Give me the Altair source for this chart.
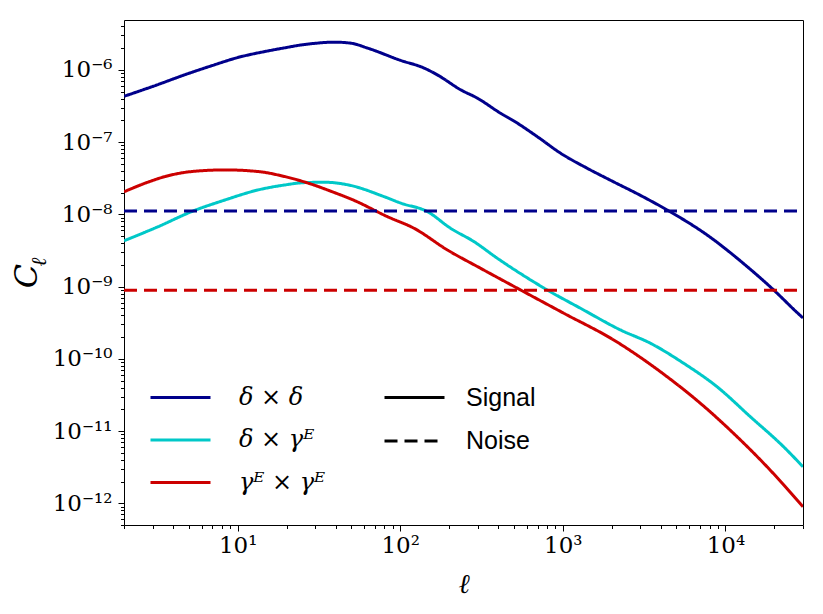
import altair as alt
import pandas as pd

# ---- data ----
ell_dd = [2, 3, 5, 7, 10, 15, 20, 24.5, 30, 39.2, 49.7, 63, 100.7, 140, 169, 236, 298, 414, 500,
          700, 970, 1410, 2000, 3000, 4375, 7700, 13600, 19800, 27500, 30000]
cl_dd = [4.3e-7, 5.89e-7, 8.93e-7, 1.15e-6, 1.48e-6, 1.81e-6, 2.04e-6, 2.21e-6, 2.33e-6, 2.42e-6,
         2.34e-6, 2.0e-6, 1.35e-6, 1.06e-6, 8.53e-7, 5.28e-7, 4.06e-7, 2.51e-7, 1.96e-7,
         1.18e-7, 7.0e-8, 4.35e-8, 2.90e-8, 1.83e-8, 1.15e-8, 5.19e-9, 1.89e-9, 8.97e-10,
         4.4e-10, 3.67e-10]

ell_de = [2, 3.25, 5.21, 8.36, 13.4, 19.5, 25.9, 34.4, 48, 79.4, 100.7, 146.9, 204, 284, 395,
          802, 1285, 2260, 3459, 5534, 8872, 14220, 22760, 30000]
cl_de = [4.3e-9, 6.76e-9, 1.09e-8, 1.58e-8, 2.18e-8, 2.55e-8, 2.75e-8, 2.78e-8, 2.55e-8, 1.76e-8,
         1.43e-8, 1.09e-8, 6.41e-9, 4.19e-9, 2.47e-9, 8.97e-10, 5.0e-10, 2.51e-10, 1.64e-10,
         8.67e-11, 4.11e-11, 1.58e-11, 6.07e-12, 3.2e-12]

ell_ee = [2, 2.7, 3.57, 5.21, 8.36, 13.4, 19.5, 27.2, 37.8, 52, 83.4, 121.6, 195, 312, 575, 1014,
          2056, 4375, 7015, 11220, 18030, 30000]
cl_ee = [2.05e-8, 2.70e-8, 3.33e-8, 3.91e-8, 4.12e-8, 3.91e-8, 3.33e-8, 2.70e-8, 2.07e-8, 1.56e-8,
         9.29e-9, 6.41e-9, 3.21e-9, 1.79e-9, 8.49e-10, 4.27e-10, 1.82e-10, 5.65e-11, 2.42e-11,
         9.29e-12, 3.2e-12, 8.95e-13]

noise_ell = [2, 30000]
noise_dd = 1.11e-8
noise_ee = 8.9e-10

LAB_DD = "δ × δ"
LAB_DE = "δ × γᴱ"
LAB_EE = "γᴱ × γᴱ"
series_order = [LAB_DD, LAB_DE, LAB_EE]
series_colors = ["#00008b", "#00c8c8", "#cc0000"]
kind_order = ["Signal", "Noise"]

x_major = [10, 100, 1000, 10000]
x_major_labels = ["10¹", "10²", "10³", "10⁴"]
y_major = [1e-12, 1e-11, 1e-10, 1e-9, 1e-8, 1e-7, 1e-6]
y_major_labels = ["10⁻¹²", "10⁻¹¹", "10⁻¹⁰", "10⁻⁹", "10⁻⁸", "10⁻⁷", "10⁻⁶"]

x_minor = [m * 10 ** k for k in range(0, 5) for m in range(2, 10) if 2 <= m * 10 ** k <= 30000]
y_minor = [m * 10.0 ** k for k in range(-13, -5) for m in range(2, 10) if 5e-13 <= m * 10.0 ** k <= 4.9e-6]

# ---- table ----
rows = []
for l, c in zip(ell_dd, cl_dd):
    rows.append(dict(ell=l, cl=c, series=LAB_DD, kind="Signal"))
for l, c in zip(ell_de, cl_de):
    rows.append(dict(ell=l, cl=c, series=LAB_DE, kind="Signal"))
for l, c in zip(ell_ee, cl_ee):
    rows.append(dict(ell=l, cl=c, series=LAB_EE, kind="Signal"))
for l in noise_ell:
    rows.append(dict(ell=l, cl=noise_dd, series=LAB_DD, kind="Noise"))
for l in noise_ell:
    rows.append(dict(ell=l, cl=noise_ee, series=LAB_EE, kind="Noise"))
df = pd.DataFrame(rows)


def label_expr(values, labels):
    parts = []
    for v, lab in sorted(zip(values, labels), key=lambda t: t[0]):
        parts.append(f"datum.value < {v * 1.5} ? '{lab}'")
    return " : ".join(parts) + " : ''"


xscale = alt.Scale(type="log", domain=[2, 30000], nice=False)
yscale = alt.Scale(type="log", domain=[5e-13, 4.9e-6], nice=False)

x_axis_major = alt.Axis(values=x_major, labelExpr=label_expr(x_major, x_major_labels),
                        orient="bottom", domain=False, grid=False, tickSize=6, tickWidth=1,
                        tickColor="black", labelFont="DejaVu Serif", labelFontSize=23,
                        labelColor="black", labelPadding=3, title="ℓ",
                        titleFont="DejaVu Serif", titleFontSize=27, titleFontStyle="italic",
                        titleFontWeight="normal", titleColor="black", titlePadding=14)
y_axis_major = alt.Axis(values=y_major, labelExpr=label_expr(y_major, y_major_labels),
                        orient="left", domain=False, grid=False, tickSize=6, tickWidth=1,
                        tickColor="black", labelFont="DejaVu Serif", labelFontSize=23,
                        labelColor="black", labelPadding=6, title=None)
x_axis_minor = alt.Axis(values=x_minor, labels=False, orient="bottom", domain=False, grid=False,
                        tickSize=3.5, tickWidth=1, tickColor="black", title=None)
y_axis_minor = alt.Axis(values=y_minor, labels=False, orient="left", domain=False, grid=False,
                        tickSize=3.5, tickWidth=1, tickColor="black", title=None)

color_legend = alt.Legend(orient="none", legendX=40, legendY=361, title=None,
                          symbolType="M-2,0H2", symbolSize=900, symbolStrokeWidth=3,
                          labelFont="DejaVu Serif", labelFontStyle="italic", labelFontSize=24,
                          labelColor="black", labelOffset=42, rowPadding=13.5, padding=0)
dash_legend = alt.Legend(orient="none", legendX=274, legendY=361, title=None,
                         symbolType="M-2,0H2", symbolSize=900, symbolStrokeWidth=3,
                         symbolStrokeColor="black",
                         labelFont="Liberation Sans", labelFontSize=25, labelColor="black",
                         labelOffset=35, rowPadding=13.5, padding=0)

base = alt.Chart(df)

curves = base.mark_line(strokeWidth=3, interpolate="monotone", clip=True).encode(
    x=alt.X("ell:Q", scale=xscale, axis=x_axis_major),
    y=alt.Y("cl:Q", scale=yscale, axis=y_axis_major),
    color=alt.Color("series:N", scale=alt.Scale(domain=series_order, range=series_colors),
                    sort=series_order, legend=color_legend),
    strokeDash=alt.StrokeDash("kind:N", scale=alt.Scale(domain=kind_order, range=[[1, 0], [13, 7]]),
                              sort=kind_order, legend=dash_legend),
)

minor = base.mark_point(opacity=0, size=1).encode(
    x=alt.X("ell:Q", scale=xscale, axis=x_axis_minor),
    y=alt.Y("cl:Q", scale=yscale, axis=y_axis_minor),
)

title_c = alt.Chart(pd.DataFrame({"t": ["C"]})).mark_text(
    font="DejaVu Serif", fontStyle="italic", fontSize=32, angle=270, align="center",
    baseline="middle", color="black"
).encode(x=alt.value(-97), y=alt.value(256), text="t:N")

title_l = alt.Chart(pd.DataFrame({"t": ["ℓ"]})).mark_text(
    font="DejaVu Serif", fontStyle="italic", fontSize=21, angle=270, align="center",
    baseline="middle", color="black"
).encode(x=alt.value(-84), y=alt.value(242), text="t:N")

chart = alt.layer(curves, minor, title_c, title_l).resolve_axis(
    x="independent", y="independent"
).properties(
    width=679, height=505,
    autosize=alt.AutoSizeParams(type="none"),
    padding={"left": 116, "top": 12, "right": 12, "bottom": 81},
).configure_view(stroke="black", strokeWidth=1)

chart.save("out.html", embed_options={"renderer": "svg", "actions": False})
